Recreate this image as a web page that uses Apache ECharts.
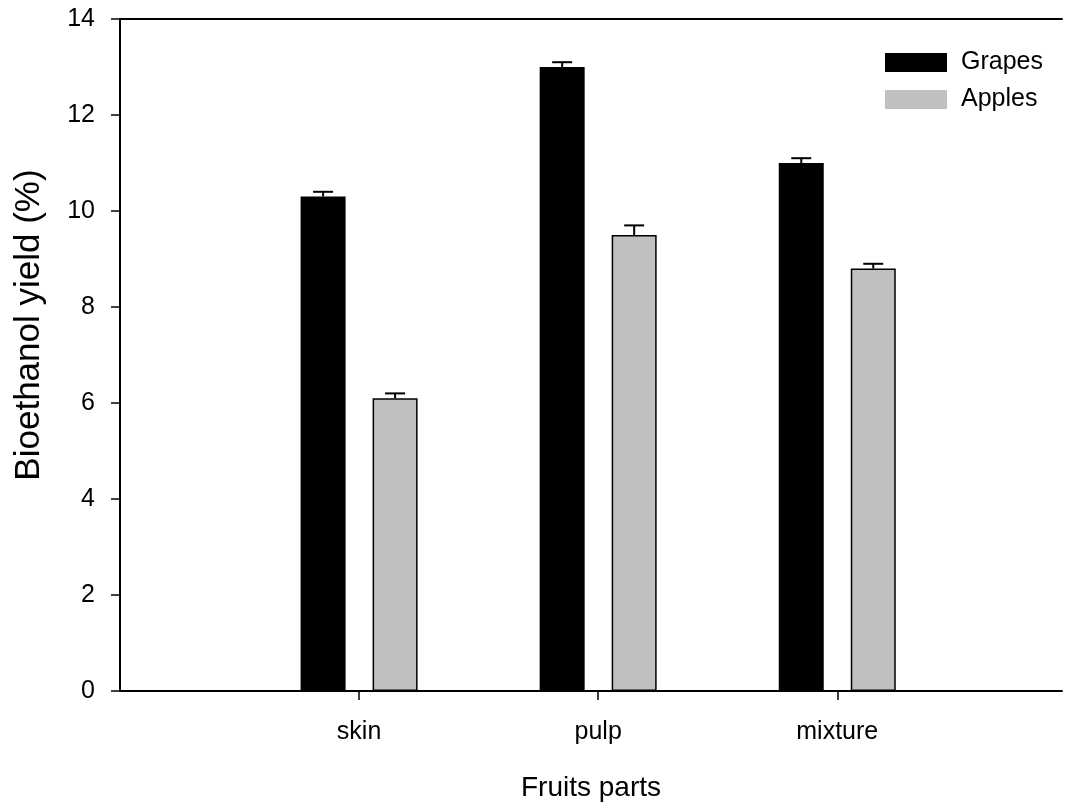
<!DOCTYPE html>
<html>
<head>
<meta charset="utf-8">
<script src="https://cdn.jsdelivr.net/npm/echarts@6/dist/echarts.min.js"></script>
<style>
html,body{margin:0;padding:0;background:#fff;}
#chart{width:1071px;height:804px;}
</style>
</head>
<body>
<div id="chart"></div>
<script>
const categories = ['skin', 'pulp', 'mixture'];
const catPositions = [1, 2, 3];
const grapes = [10.3, 13.0, 11.0];
const apples = [6.1, 9.5, 8.8];
const grapesErr = [0.1, 0.1, 0.1];
const applesErr = [0.1, 0.2, 0.1];
const yTicks = [0, 2, 4, 6, 8, 10, 12, 14];

const FONT = 'Liberation Sans, Arial, sans-serif';
const BAR_W = 45;
const OFFSET = 36;

const chart = echarts.init(document.getElementById('chart'));

function errSeries(name, vals, errs, dx) {
  return {
    type: 'custom',
    name: name + ' err',
    z: 5,
    silent: true,
    data: catPositions.map((x, i) => [x, vals[i], errs[i]]),
    renderItem: function (params, api) {
      const x = api.value(0), y = api.value(1), e = api.value(2);
      const p0 = api.coord([x, y]);
      const p1 = api.coord([x, y + e]);
      const cx = p0[0] + dx;
      return {
        type: 'group',
        children: [
          {type: 'line', shape: {x1: cx, y1: p0[1], x2: cx, y2: p1[1]}, style: {stroke: '#000', lineWidth: 2}},
          {type: 'line', shape: {x1: cx - 10, y1: p1[1], x2: cx + 10, y2: p1[1]}, style: {stroke: '#000', lineWidth: 2}}
        ]
      };
    }
  };
}

chart.setOption({
  animation: false,
  backgroundColor: '#fff',
  textStyle: {fontFamily: FONT, color: '#000'},
  grid: {left: 120, right: 9, top: 19, bottom: 113, containLabel: false, outerBoundsMode: 'none'},
  legend: {
    orient: 'vertical',
    left: 880,
    top: 45,
    icon: 'rect',
    itemWidth: 62,
    itemHeight: 19,
    itemGap: 12,
    textStyle: {fontSize: 25, lineHeight: 25, fontFamily: FONT, color: '#000', padding: [0, 0, 0, 9]},
    data: [
      {name: 'Grapes', itemStyle: {borderWidth: 0}},
      {name: 'Apples', itemStyle: {borderWidth: 0}}
    ]
  },
  xAxis: [{
    type: 'value',
    min: 0,
    max: 3.94,
    interval: 1,
    name: 'Fruits parts',
    nameLocation: 'middle',
    nameGap: 83,
    nameTextStyle: {fontSize: 28, fontFamily: FONT, color: '#000'},
    axisLine: {show: true, lineStyle: {color: '#000', width: 2}},
    axisTick: {show: true, length: 9, customValues: catPositions, lineStyle: {color: '#000', width: 1.5}},
    axisLabel: {
      fontSize: 25, fontFamily: FONT, color: '#000', margin: 29,
      customValues: catPositions,
      formatter: function (v) { const i = catPositions.indexOf(v); return i >= 0 ? categories[i] : ''; }
    },
    splitLine: {show: false}
  }, {
    type: 'value',
    position: 'top',
    min: 0,
    max: 3.94,
    axisLine: {show: true, lineStyle: {color: '#000', width: 2}},
    axisTick: {show: false},
    axisLabel: {show: false},
    splitLine: {show: false}
  }],
  yAxis: {
    type: 'value',
    min: 0,
    max: 14,
    interval: 2,
    name: 'Bioethanol yield (%)',
    nameLocation: 'middle',
    nameGap: 73,
    nameTextStyle: {fontSize: 35, fontFamily: FONT, color: '#000', padding: [0, 0, 0, 60]},
    axisLine: {show: true, lineStyle: {color: '#000', width: 2}},
    axisTick: {show: true, inside: false, length: 9, lineStyle: {color: '#000', width: 1.5}},
    axisLabel: {
      fontSize: 25, fontFamily: FONT, color: '#000', margin: 25,
      formatter: function (v) { return yTicks.indexOf(v) >= 0 ? String(v) : ''; }
    },
    splitLine: {show: false}
  },
  series: [
    {
      type: 'bar',
      name: 'Grapes',
      barWidth: BAR_W,
      barGap: '60%',
      itemStyle: {color: '#000', borderColor: '#000', borderWidth: 0},
      data: catPositions.map((x, i) => [x, grapes[i]])
    },
    {
      type: 'bar',
      name: 'Apples',
      barWidth: BAR_W,
      barGap: '60%',
      itemStyle: {color: '#c0c0c0', borderColor: '#000', borderWidth: 1.5},
      data: catPositions.map((x, i) => [x, apples[i]])
    },
    errSeries('Grapes', grapes, grapesErr, -OFFSET),
    errSeries('Apples', apples, applesErr, OFFSET)
  ]
});
</script>
</body>
</html>
